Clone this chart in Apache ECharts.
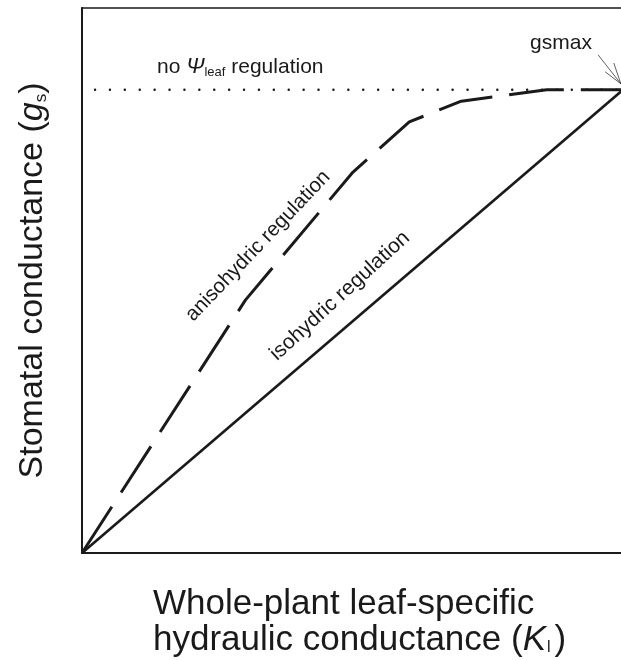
<!DOCTYPE html>
<html>
<head>
<meta charset="utf-8">
<script src="https://cdn.jsdelivr.net/npm/echarts@6/dist/echarts.min.js"></script>
<style>
  html, body { margin: 0; padding: 0; background: #fff; }
  #chart { width: 621px; height: 660px; }
</style>
</head>
<body>
<div id="chart"></div>
<script>
// conceptual curves, both axes normalised 0..1
const gsMax = 0.85;
const isoX = [0, 1];
const isoY = [0, 0.85];
const anisoX = [0, 0.302, 0.501, 0.605, 0.701, 0.859, 1];
const anisoY = [0, 0.464, 0.699, 0.791, 0.829, 0.85, 0.85];
const noRegX = [0.024, 1];
// gsmax pointer: shaft + two barbs
const arrowFrom = [[0.954, 0.914], [0.983, 0.899], [0.967, 0.883]];
const arrowTip = [0.996, 0.861];

const font = '"Liberation Sans", Arial, sans-serif';
const ink = '#1a1a1a';

const zip = (xs, ys) => xs.map((x, i) => [x, ys[i]]);

const chart = echarts.init(document.getElementById('chart'));
chart.setOption({
  animation: false,
  backgroundColor: '#fff',
  grid: {
    left: 82, right: -2, top: 8, bottom: 107,
    outerBoundsMode: 'none',
    show: true, borderColor: ink, borderWidth: 1.5
  },
  xAxis: {
    type: 'value', min: 0, max: 1,
    axisLine: { show: true, lineStyle: { color: ink, width: 2 } },
    axisTick: { show: false }, axisLabel: { show: false }, splitLine: { show: false }
  },
  yAxis: {
    type: 'value', min: 0, max: 1,
    axisLine: { show: true, lineStyle: { color: ink, width: 2 } },
    axisTick: { show: false }, axisLabel: { show: false }, splitLine: { show: false },
    name: 'Stomatal conductance ({i|g}{sub|s})',
    nameLocation: 'middle', nameGap: 32,
    nameTextStyle: {
      fontFamily: font, fontSize: 34, color: ink,
      rich: {
        i: { fontFamily: font, fontSize: 34, fontStyle: 'italic', color: ink },
        sub: { fontFamily: font, fontSize: 17, color: ink, padding: [16, 0, 0, 0] }
      }
    }
  },
  series: [{
    name: 'isohydric',
    type: 'line', symbol: 'none', silent: true,
    data: zip(isoX, isoY),
    lineStyle: { color: ink, width: 2.6 },
    markLine: {
      silent: true, symbol: ['none', 'none'],
      label: { show: false },
      lineStyle: { color: ink, width: 0.7, type: 'solid' },
      data: arrowFrom.map(p => [{ coord: p }, { coord: arrowTip }])
    }
  }, {
    name: 'anisohydric',
    type: 'line', symbol: 'none', silent: true,
    data: zip(anisoX, anisoY),
    lineStyle: { color: ink, width: 3, type: [55, 17] }
  }, {
    name: 'no regulation',
    type: 'line', symbol: 'none', silent: true,
    data: zip(noRegX, [gsMax, gsMax]),
    lineStyle: { color: ink, width: 2.4, type: [0.1, 14.8], cap: 'round' }
  }],
  graphic: [{
    // x-axis title, left aligned block as in the original figure
    type: 'text', x: 153, y: 586,
    style: {
      text: 'Whole-plant leaf-specific\nhydraulic conductance ({i|K}{sub|l}{t|)}',
      fontFamily: font, fontSize: 35, fill: ink, lineHeight: 36,
      align: 'left', verticalAlign: 'top',
      rich: {
        i: { fontFamily: font, fontSize: 35, fontStyle: 'italic', fill: ink, lineHeight: 36 },
        sub: { fontFamily: font, fontSize: 16, fill: ink, lineHeight: 36, padding: [16, 0, 0, 1] },
        t: { fontFamily: font, fontSize: 35, fill: ink, lineHeight: 36, padding: [0, 0, 0, 4] }
      }
    }
  }, {
    type: 'text', x: 157, y: 67,
    style: {
      text: 'no {psi|Ψ}{sub|leaf} regulation',
      fontFamily: font, fontSize: 21, fill: ink, verticalAlign: 'middle',
      rich: {
        psi: { fontFamily: font, fontSize: 22, fontStyle: 'italic', fill: ink },
        sub: { fontFamily: font, fontSize: 13, fill: ink, padding: [11, 0, 0, 0] }
      }
    }
  }, {
    type: 'text', x: 561, y: 43,
    style: { text: 'gsmax', fontFamily: font, fontSize: 21, fill: ink, align: 'center', verticalAlign: 'middle' }
  }, {
    type: 'text', x: 258, y: 246, rotation: 0.81,
    style: { text: 'anisohydric regulation', fontFamily: font, fontSize: 20.5, fill: ink, align: 'center', verticalAlign: 'middle' }
  }, {
    type: 'text', x: 340, y: 296, rotation: 0.74,
    style: { text: 'isohydric regulation', fontFamily: font, fontSize: 21, fill: ink, align: 'center', verticalAlign: 'middle' }
  }]
});
</script>
</body>
</html>
